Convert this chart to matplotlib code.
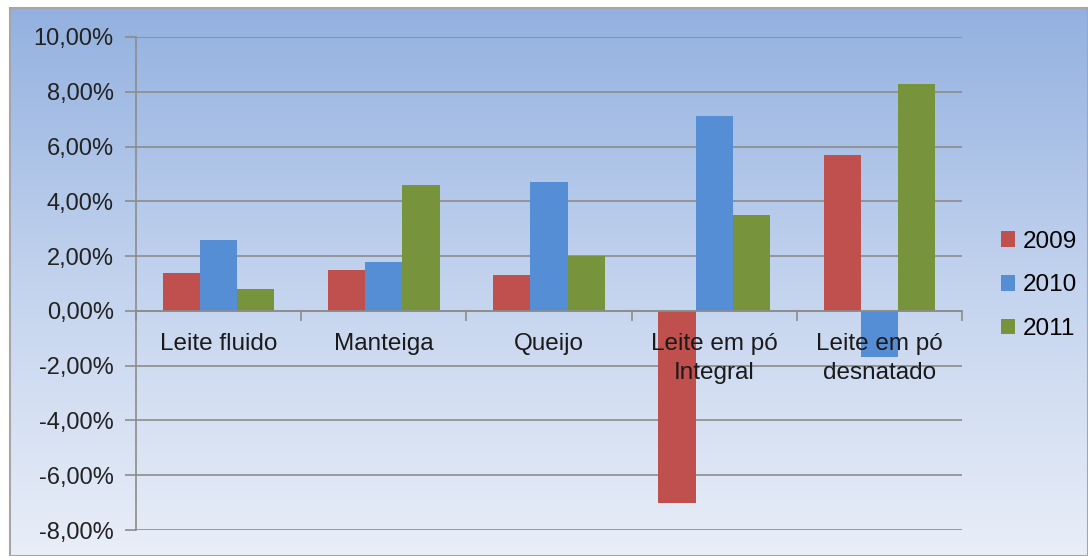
import numpy as np
import matplotlib
matplotlib.use("Agg")
import matplotlib.pyplot as plt
from matplotlib.colors import LinearSegmentedColormap

# categories and yearly variation (%)
categorias = ["Leite fluido", "Manteiga", "Queijo", "Leite em pó\nIntegral", "Leite em pó\ndesnatado"]
anos = ["2009", "2010", "2011"]
v2009 = [1.4, 1.5, 1.3, -7.0, 5.7]
v2010 = [2.6, 1.8, 4.7, 7.1, -1.7]
v2011 = [0.8, 4.6, 2.0, 3.5, 8.3]
yticks = [-8, -6, -4, -2, 0, 2, 4, 6, 8, 10]

cores = ["#C0504D", "#558ED5", "#77933C"]

plt.rcParams["font.family"] = ["Liberation Sans", "DejaVu Sans"]

fig = plt.figure(figsize=(10.88, 5.56), dpi=100)
fig.patch.set_facecolor("white")

# gradient background with a gray frame
bg = fig.add_axes([10/1088, 0, 1 - 10/1088, 548/556], zorder=0)
cmap = LinearSegmentedColormap.from_list("bg", ["#93B1E0", "#C3D3EE", "#E9EEF8"])
grad = np.linspace(0, 1, 256).reshape(-1, 1)
bg.imshow(grad, aspect="auto", cmap=cmap, extent=[0, 1, 0, 1])
bg.set_xlim(0, 1); bg.set_ylim(0, 1)
bg.set_xticks([]); bg.set_yticks([])
for s in bg.spines.values():
    s.set_color("#A6A6A6")
    s.set_linewidth(1.5)

ax = fig.add_axes([136/1088, 26/556, 826/1088, 493/556], zorder=1)
ax.set_facecolor("none")

x = np.arange(len(categorias))
w = 0.225
for i, (vals, ano) in enumerate(zip([v2009, v2010, v2011], anos)):
    ax.bar(x + (i - 1) * w, vals, width=w, color=cores[i], label=ano, zorder=3)

ax.set_xlim(-0.5, len(categorias) - 0.5)
ax.set_ylim(-8, 10)
ax.set_yticks(yticks)
ax.set_yticklabels([f"{v:,.2f}%".replace(".", ",") for v in yticks], fontsize=17, color="#222222")
ax.yaxis.grid(True, color="#8C8C8C", linewidth=1.2, zorder=1)
ax.tick_params(axis="y", length=8, color="#8C8C8C", width=1.2, pad=8)

ax.spines["bottom"].set_position(("data", 0))
ax.spines["bottom"].set_color("#8C8C8C")
ax.spines["bottom"].set_linewidth(1.2)
ax.spines["bottom"].set_zorder(4)
ax.spines["left"].set_color("#8C8C8C")
ax.spines["left"].set_linewidth(1.2)
ax.spines["top"].set_visible(False)
ax.spines["right"].set_visible(False)
ax.set_xticks(np.arange(len(categorias) + 1) - 0.5)
ax.set_xticklabels([])
ax.tick_params(axis="x", length=7, color="#8C8C8C", width=1.2, direction="out")

for xi, cat in zip(x, categorias):
    ax.text(xi, -0.8, cat, ha="center", va="top", fontsize=17.5, color="#1A1A1A",
            linespacing=1.45, zorder=5)

ax.legend(loc="center left", bbox_to_anchor=(1.035, 0.496), frameon=False, fontsize=17.5,
          handlelength=0.6, handleheight=0.6, handletextpad=0.3, labelspacing=0.9,
          borderaxespad=0)

fig.savefig("out.png", dpi=100)
